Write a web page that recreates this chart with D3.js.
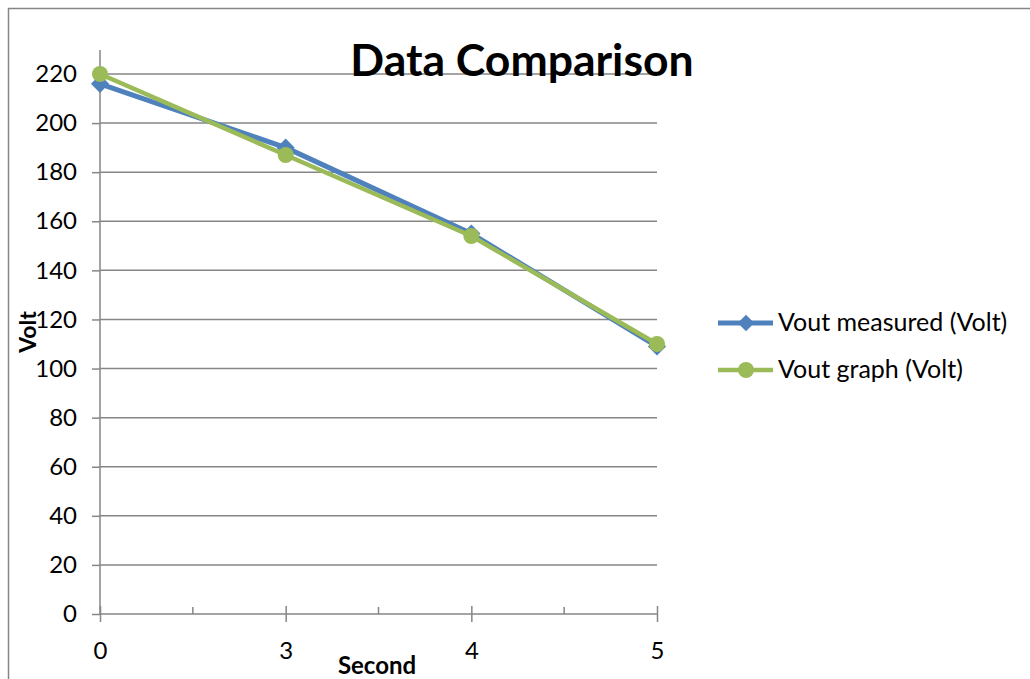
<!DOCTYPE html>
<html><head><meta charset="utf-8">
<script src="https://cdn.jsdelivr.net/npm/d3@7"></script>
<style>body{margin:0;background:#fff}svg{display:block}text{font-family:Lato,"Open Sans",sans-serif}</style>
</head><body>
<svg id="c" width="1030" height="679"></svg>
<script>
const categories = ["0","3","4","5"];
const measured = [216, 190, 155, 109];
const graph = [220, 187, 154, 110];
const yTicks = [0,20,40,60,80,100,120,140,160,180,200,220];
const seriesNames = ["Vout measured (Volt)", "Vout graph (Volt)"];
const colors = ["#4F81BD", "#9BBB59"];

const svg = d3.select("#c");
const grid = "#868686";
svg.append("rect").attr("x",8.5).attr("y",8.5).attr("width",1100).attr("height",800)
  .attr("fill","none").attr("stroke",grid).attr("stroke-width",1.5);

const x = d3.scalePoint().domain(categories).range([100,657]).padding(0);
const y = d3.scaleLinear().domain([0,220]).range([614,74]);

svg.append("g").selectAll("line").data(yTicks.filter(d=>d>0)).join("line")
  .attr("x1",100).attr("x2",657).attr("y1",d=>y(d)).attr("y2",d=>y(d))
  .attr("stroke",grid).attr("stroke-width",1.5);

const yAxis = d3.axisLeft(y).tickValues(yTicks).tickSize(8).tickPadding(15);
const gy = svg.append("g").attr("transform","translate(100,0)").call(yAxis);
gy.select(".domain").remove();
gy.selectAll(".tick line").attr("stroke",grid).attr("stroke-width",1.5);
gy.selectAll(".tick text").attr("font-size",24).attr("fill","#000");
svg.append("line").attr("x1",100).attr("x2",100).attr("y1",50).attr("y2",614)
  .attr("stroke",grid).attr("stroke-width",1.5);

const gx = svg.append("g").attr("transform","translate(0,614)")
  .call(d3.axisBottom(x).tickSize(8).tickPadding(20));
gx.select(".domain").remove();
gx.selectAll(".tick line").attr("y1",-8).attr("y2",8).attr("stroke",grid).attr("stroke-width",1.5);
gx.selectAll(".tick text").attr("font-size",24).attr("fill","#000");
svg.append("line").attr("x1",100).attr("x2",657).attr("y1",614).attr("y2",614)
  .attr("stroke",grid).attr("stroke-width",1.5);
const mids = d3.pairs(categories).map(([a,b])=>(x(a)+x(b))/2);
svg.append("g").selectAll("line").data(mids).join("line")
  .attr("x1",d=>d).attr("x2",d=>d).attr("y1",607).attr("y2",614)
  .attr("stroke",grid).attr("stroke-width",1.5);

const line = d3.line().x((d,i)=>x(categories[i])).y(d=>y(d));
const sq = d3.symbol().type(d3.symbolSquare).size(165)();
[measured, graph].forEach((vals,si)=>{
  svg.append("path").datum(vals).attr("d",line).attr("fill","none")
    .attr("stroke",colors[si]).attr("stroke-width",si===0?5:4.5).attr("stroke-linejoin","round");
  const g = svg.append("g");
  if(si===0){
    g.selectAll("path").data(vals).join("path").attr("d", sq)
      .attr("transform",(d,i)=>`translate(${x(categories[i])},${y(d)}) rotate(45)`)
      .attr("fill",colors[0]);
  } else {
    g.selectAll("circle").data(vals).join("circle")
      .attr("cx",(d,i)=>x(categories[i])).attr("cy",d=>y(d)).attr("r",8)
      .attr("fill",colors[1]);
  }
});

const ly = [323, 370];
seriesNames.forEach((n,i)=>{
  const g = svg.append("g");
  g.append("line").attr("x1",718).attr("x2",773).attr("y1",ly[i]).attr("y2",ly[i])
    .attr("stroke",colors[i]).attr("stroke-width",i===0?5:4.5);
  if(i===0) g.append("path").attr("d", d3.symbol().type(d3.symbolSquare).size(135)())
    .attr("transform",`translate(746,${ly[i]}) rotate(45)`).attr("fill",colors[0]);
  else g.append("circle").attr("cx",746).attr("cy",ly[i]).attr("r",8).attr("fill",colors[1]);
  g.append("text").attr("x",778).attr("y",ly[i]+8).attr("font-size",25).text(n);
});

svg.append("text").attr("x",522).attr("y",76).attr("text-anchor","middle")
  .attr("font-size",44.5).attr("font-weight","bold").text("Data Comparison");
svg.append("text").attr("x",377).attr("y",674).attr("text-anchor","middle")
  .attr("font-size",24).attr("font-weight","bold").text("Second");
svg.append("text").attr("transform","translate(36,332) rotate(-90)").attr("text-anchor","middle")
  .attr("font-size",23).attr("font-weight","bold").text("Volt");
</script>
</body></html>
